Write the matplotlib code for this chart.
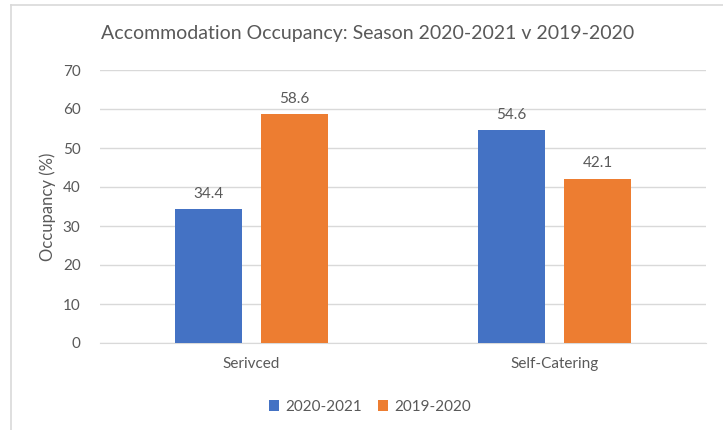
import matplotlib
matplotlib.use('Agg')
from matplotlib import pyplot as plt
from matplotlib.lines import Line2D
import numpy as np

categories = ['Serivced', 'Self-Catering']
season_2021 = [34.4, 54.6]
season_2020 = [58.6, 42.1]
labels = ['2020-2021', '2019-2020']
colors = ['#4472C4', '#ED7D31']
text_col = '#595959'

plt.rcParams['font.family'] = ['Lato', 'DejaVu Sans']

fig = plt.figure(figsize=(7.23, 4.30), dpi=100)
ax = fig.add_axes([100/723, 1 - 343/430, 606/723, 273/430])

x = np.arange(len(categories))
w = 0.222
off = 0.142
b1 = ax.bar(x - off, season_2021, w, color=colors[0], label=labels[0], zorder=3)
b2 = ax.bar(x + off, season_2020, w, color=colors[1], label=labels[1], zorder=3)

for bars in (b1, b2):
    for r in bars:
        ax.annotate(f'{r.get_height():.1f}', (r.get_x() + r.get_width() / 2, r.get_height()),
                    xytext=(0, 6), textcoords='offset points', ha='center', va='bottom',
                    fontsize=11, color=text_col)

ax.set_xlim(-0.5, 1.5)
ax.set_ylim(0, 70)
ax.set_yticks(range(0, 80, 10))
ax.set_xticks(x)
ax.set_xticklabels(categories)
ax.yaxis.grid(True, color='#d9d9d9', linewidth=1, zorder=0)
for s in ['top', 'right', 'left']:
    ax.spines[s].set_visible(False)
ax.spines['bottom'].set_color('#d9d9d9')
ax.tick_params(axis='both', length=0, labelsize=11, colors=text_col)
ax.tick_params(axis='y', pad=14)
ax.tick_params(axis='x', pad=10)
ax.set_ylabel('Occupancy (%)', fontsize=12, color=text_col, labelpad=5)

fig.text(368/723, 1 - 33/430, 'Accommodation Occupancy: Season 2020-2021 v 2019-2020',
         ha='center', va='center', fontsize=14, color=text_col)

fig.legend(loc='center', bbox_to_anchor=(370/723, 1 - 407/430), ncol=2, frameon=False,
           fontsize=11, labelcolor=text_col, handlelength=0.7, handleheight=0.7,
           columnspacing=1.0, handletextpad=0.4)

# chart area border (left and top edges visible)
fig.add_artist(Line2D([11/723, 11/723], [0, 1 - 5/430], color='#d9d9d9', linewidth=1.2))
fig.add_artist(Line2D([11/723, 1], [1 - 5/430, 1 - 5/430], color='#d9d9d9', linewidth=1.2))

plt.savefig('out.png', dpi=100)
